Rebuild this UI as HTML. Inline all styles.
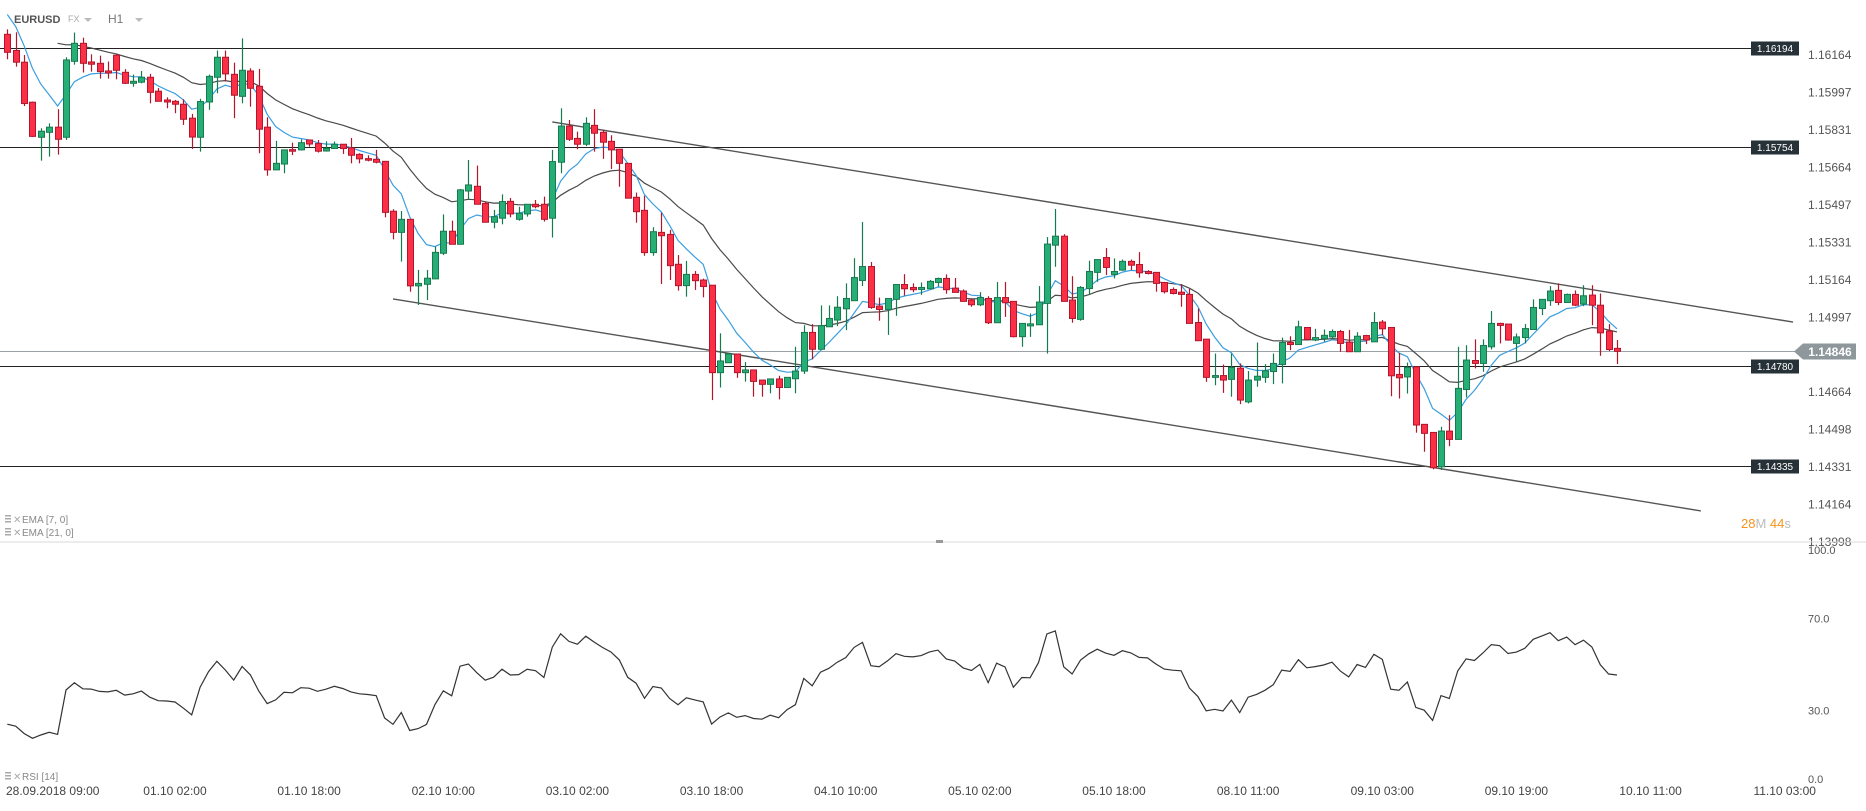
<!DOCTYPE html>
<html><head><meta charset="utf-8"><style>
html,body{margin:0;padding:0;background:#fff;}
body{width:1866px;height:811px;overflow:hidden;font-family:"Liberation Sans",sans-serif;}
svg{display:block;}
</style></head><body>
<svg id="chart" width="1866" height="811" viewBox="0 0 1866 811" xmlns="http://www.w3.org/2000/svg" font-family="Liberation Sans, sans-serif">
  <g>
    <text x="14" y="23" font-size="11" font-weight="bold" fill="#555">EURUSD</text>
    <text x="68" y="22" font-size="9" fill="#aaa">FX</text>
    <path d="M84 18 L92 18 L88 22 Z" fill="#bbb"/>
    <text x="108" y="23" font-size="12" fill="#777">H1</text>
    <path d="M135 18 L143 18 L139 22 Z" fill="#bbb"/>
  </g>
  <g id="levels"></g>
  <g id="channel"></g>
  <g id="emas"></g>
  <g id="candles"></g>
  <g id="priceAxis"></g>
  <g font-size="10" fill="#888">
    <g>
      <rect x="5" y="515" width="6" height="1.5" fill="#aaa"/><rect x="5" y="518" width="6" height="1.5" fill="#aaa"/><rect x="5" y="521" width="6" height="1.5" fill="#aaa"/>
      <text x="13" y="523" fill="#aaa">✕</text><text x="22" y="523">EMA  [7, 0]</text>
    </g>
    <g>
      <rect x="5" y="528" width="6" height="1.5" fill="#aaa"/><rect x="5" y="531" width="6" height="1.5" fill="#aaa"/><rect x="5" y="534" width="6" height="1.5" fill="#aaa"/>
      <text x="13" y="536" fill="#aaa">✕</text><text x="22" y="536">EMA  [21, 0]</text>
    </g>
  </g>
  <g font-size="13">
    <text x="1741" y="528"><tspan fill="#f7931e">28</tspan><tspan fill="#bbb">M </tspan><tspan fill="#f7931e">44</tspan><tspan fill="#bbb">s</tspan></text>
  </g>
  <line x1="0" y1="542" x2="1866" y2="542" stroke="#d8d8d8" stroke-width="1"/>
  <rect x="936" y="540" width="7" height="3" fill="#999"/>
  <g id="rsiPanel"></g>
  <g font-size="10" fill="#888">
    <rect x="5" y="772" width="6" height="1.5" fill="#aaa"/><rect x="5" y="775" width="6" height="1.5" fill="#aaa"/><rect x="5" y="778" width="6" height="1.5" fill="#aaa"/>
    <text x="13" y="780" fill="#aaa">✕</text><text x="22" y="780">RSI  [14]</text>
  </g>
  <g id="timeAxis"></g>
</svg>
<script>
const opens=[1.16256,1.16184,1.16132,1.15954,1.15798,1.15820,1.15843,1.15798,1.16136,1.16216,
1.16133,1.16127,1.16093,1.16163,1.16087,1.16038,1.16043,1.16065,1.16003,1.15964,
1.15958,1.15945,1.15883,1.15798,1.15955,1.16065,1.16154,1.16078,1.15980,1.16093,
1.16025,1.15843,1.15653,1.15679,1.15743,1.15742,1.15786,1.15770,1.15737,1.15748,
1.15767,1.15751,1.15722,1.15703,1.15700,1.15691,1.15469,1.15375,1.15433,1.15137,
1.15144,1.15168,1.15282,1.15380,1.15322,1.15559,1.15580,1.15504,1.15420,1.15438,
1.15513,1.15433,1.15457,1.15500,1.15500,1.15438,1.15687,1.15848,1.15793,1.15767,
1.15851,1.15820,1.15780,1.15745,1.15682,1.15531,1.15473,1.15285,1.15375,1.15366,
1.15233,1.15138,1.15188,1.15163,1.15140,1.14751,1.14795,1.14834,1.14751,1.14763,
1.14718,1.14699,1.14723,1.14685,1.14724,1.14758,1.14930,1.14855,1.14955,1.14985,
1.15035,1.15071,1.15161,1.15223,1.15047,1.15032,1.15077,1.15143,1.15130,1.15121,
1.15124,1.15152,1.15170,1.15127,1.15114,1.15074,1.15053,1.15081,1.14973,1.15085,
1.15068,1.14911,1.14959,1.14964,1.15059,1.15318,1.15358,1.15074,1.14988,1.15125,
1.15197,1.15263,1.15188,1.15207,1.15246,1.15232,1.15201,1.15197,1.15152,1.15121,
1.15109,1.15099,1.14974,1.14900,1.14730,1.14738,1.14721,1.14771,1.14621,1.14718,
1.14730,1.14756,1.14787,1.14885,1.14876,1.14952,1.14896,1.14902,1.14910,1.14934,
1.14887,1.14844,1.14916,1.14888,1.14976,1.14952,1.14743,1.14732,1.14777,1.14521,
1.14485,1.14332,1.14491,1.14454,1.14676,1.14805,1.14792,1.14866,1.14970,1.14967,
1.14881,1.14907,1.14943,1.15036,1.15071,1.15117,1.15063,1.15099,1.15056,1.15096,
1.15051,1.14936,1.14859];
const highs=[1.16278,1.16265,1.16164,1.15957,1.15838,1.15860,1.15923,1.16154,1.16264,1.16241,
1.16167,1.16161,1.16135,1.16166,1.16101,1.16077,1.16093,1.16080,1.16017,1.15976,
1.15964,1.15967,1.15902,1.15969,1.16077,1.16184,1.16184,1.16130,1.16238,1.16105,
1.16102,1.15887,1.15782,1.15742,1.15774,1.15789,1.15786,1.15786,1.15780,1.15779,
1.15768,1.15795,1.15727,1.15718,1.15742,1.15691,1.15478,1.15470,1.15433,1.15208,
1.15208,1.15312,1.15455,1.15427,1.15568,1.15697,1.15672,1.15513,1.15475,1.15544,
1.15528,1.15489,1.15500,1.15519,1.15534,1.15742,1.15927,1.15875,1.15823,1.15887,
1.15923,1.15831,1.15807,1.15745,1.15682,1.15552,1.15538,1.15398,1.15463,1.15386,
1.15274,1.15248,1.15203,1.15169,1.15140,1.14926,1.14840,1.14834,1.14798,1.14763,
1.14718,1.14723,1.14737,1.14730,1.14866,1.14962,1.14967,1.15050,1.15050,1.15091,
1.15148,1.15260,1.15421,1.15243,1.15085,1.15081,1.15143,1.15189,1.15148,1.15152,
1.15163,1.15174,1.15188,1.15172,1.15121,1.15081,1.15109,1.15091,1.15154,1.15154,
1.15068,1.14970,1.15014,1.15136,1.15354,1.15479,1.15367,1.15180,1.15136,1.15249,
1.15254,1.15305,1.15259,1.15254,1.15254,1.15287,1.15207,1.15197,1.15155,1.15130,
1.15145,1.15124,1.15036,1.14900,1.14836,1.14787,1.14836,1.14792,1.14758,1.14885,
1.14789,1.14836,1.14907,1.14913,1.14982,1.14952,1.14946,1.14943,1.14943,1.14941,
1.14941,1.14931,1.14919,1.15020,1.14985,1.14952,1.14839,1.14796,1.14777,1.14521,
1.14485,1.14510,1.14562,1.14866,1.14873,1.14899,1.14899,1.15025,1.14973,1.14967,
1.14925,1.14967,1.15077,1.15077,1.15136,1.15148,1.15103,1.15117,1.15140,1.15140,
1.15103,1.14967,1.14896];
const lows=[1.16145,1.16112,1.15937,1.15799,1.15694,1.15712,1.15721,1.15786,1.16121,1.16086,
1.16090,1.16059,1.16059,1.16056,1.16035,1.16023,1.16038,1.15949,1.15958,1.15927,
1.15905,1.15853,1.15746,1.15734,1.15920,1.15994,1.16046,1.15883,1.15949,1.15934,
1.15727,1.15627,1.15653,1.15638,1.15719,1.15739,1.15756,1.15730,1.15734,1.15748,
1.15724,1.15682,1.15682,1.15691,1.15682,1.15442,1.15344,1.15245,1.15111,1.15052,
1.15074,1.15168,1.15274,1.15322,1.15322,1.15519,1.15500,1.15420,1.15393,1.15411,
1.15442,1.15427,1.15445,1.15482,1.15423,1.15352,1.15638,1.15782,1.15745,1.15759,
1.15734,1.15702,1.15657,1.15578,1.15527,1.15418,1.15271,1.15271,1.15145,1.15163,
1.15116,1.15089,1.15119,1.15086,1.14629,1.14685,1.14795,1.14728,1.14711,1.14644,
1.14644,1.14659,1.14632,1.14685,1.14659,1.14745,1.14810,1.14855,1.14955,1.14958,
1.14940,1.15071,1.15136,1.15035,1.14982,1.14919,1.15004,1.15094,1.15109,1.15097,
1.15124,1.15134,1.15102,1.15108,1.15068,1.15044,1.15047,1.14967,1.14973,1.14999,
1.14908,1.14866,1.14910,1.14964,1.14836,1.15222,1.15068,1.14973,1.14982,1.15100,
1.15155,1.15185,1.15170,1.15204,1.15207,1.15173,1.15188,1.15111,1.15103,1.15099,
1.15044,1.14970,1.14893,1.14710,1.14695,1.14661,1.14644,1.14611,1.14614,1.14688,
1.14706,1.14700,1.14703,1.14851,1.14876,1.14896,1.14891,1.14888,1.14899,1.14844,
1.14844,1.14844,1.14878,1.14888,1.14918,1.14646,1.14636,1.14658,1.14484,1.14399,
1.14321,1.14318,1.14424,1.14454,1.14641,1.14770,1.14755,1.14854,1.14881,1.14893,
1.14799,1.14881,1.14943,1.15007,1.15048,1.15051,1.15063,1.15047,1.15047,1.14962,
1.14826,1.14847,1.14789];
const closes=[1.16176,1.16132,1.15948,1.15802,1.15825,1.15843,1.15789,1.16142,1.16216,1.16127,
1.16123,1.16090,1.16084,1.16096,1.16038,1.16047,1.16065,1.15998,1.15958,1.15955,
1.15945,1.15878,1.15799,1.15957,1.16069,1.16154,1.16080,1.15985,1.16096,1.16016,
1.15834,1.15653,1.15682,1.15742,1.15736,1.15774,1.15768,1.15736,1.15749,1.15767,
1.15748,1.15718,1.15702,1.15696,1.15687,1.15464,1.15375,1.15433,1.15137,1.15148,
1.15171,1.15286,1.15380,1.15322,1.15564,1.15586,1.15500,1.15420,1.15445,1.15512,
1.15457,1.15460,1.15500,1.15489,1.15433,1.15690,1.15848,1.15789,1.15767,1.15860,
1.15816,1.15776,1.15742,1.15682,1.15527,1.15467,1.15285,1.15378,1.15360,1.15227,
1.15138,1.15188,1.15160,1.15134,1.14751,1.14803,1.14834,1.14751,1.14763,1.14712,
1.14699,1.14723,1.14685,1.14730,1.14758,1.14930,1.14855,1.14960,1.14992,1.15042,
1.15081,1.15174,1.15223,1.15041,1.15032,1.15081,1.15143,1.15124,1.15120,1.15130,
1.15157,1.15170,1.15120,1.15108,1.15068,1.15053,1.15085,1.14973,1.15085,1.15062,
1.14911,1.14970,1.14968,1.15065,1.15323,1.15358,1.15068,1.14992,1.15130,1.15201,
1.15254,1.15219,1.15201,1.15246,1.15229,1.15195,1.15192,1.15148,1.15111,1.15103,
1.15099,1.14970,1.14893,1.14730,1.14738,1.14718,1.14774,1.14629,1.14718,1.14735,
1.14759,1.14792,1.14885,1.14876,1.14955,1.14899,1.14907,1.14917,1.14934,1.14881,
1.14844,1.14913,1.14896,1.14974,1.14946,1.14737,1.14728,1.14774,1.14518,1.14481,
1.14328,1.14491,1.14454,1.14681,1.14807,1.14792,1.14872,1.14970,1.14961,1.14896,
1.14910,1.14947,1.15041,1.15077,1.15114,1.15063,1.15099,1.15051,1.15093,1.15051,
1.14928,1.14854,1.14846];
const priceTicks=[1.16164,1.15997,1.15831,1.15664,1.15497,1.15331,1.15164,1.14997,1.14664,1.14498,1.14331,1.14164,1.13998];
const levelPrices=[1.16194,1.15754,1.14780,1.14335];
const currentPrice=1.14846;
const upperChannel=[[65,1.15866],[213,1.14976]];
const lowerChannel=[[46,1.15079],[202,1.14136]];
const ema7Seed=1.1640, ema21Seed=1.1651;
const rsiSeedGain=0.00022, rsiSeedLoss=0.0007;
const rsiTicks=[100,70,30,0];
const timeTickIndex=[20,36,52,68,84,100,116,132,148,164,180,196,212];
const timeTickLabels=["01.10  02:00","01.10  18:00","02.10  10:00","03.10  02:00","03.10  18:00","04.10  10:00","05.10  02:00","05.10  18:00","08.10  11:00","09.10  03:00","09.10  19:00","10.10  11:00","11.10  03:00"];
const firstTimeLabel="28.09.2018  09:00";

const NS="http://www.w3.org/2000/svg";
function mk(tag,attrs,parent){const e=document.createElementNS(NS,tag);for(const k in attrs)e.setAttribute(k,attrs[k]);parent.appendChild(e);return e;}
const X=i=>7.3+i*8.384;
const Y=p=>55+(1.16164-p)*22480;
const RY=v=>779-v*2.29;
const AXX=1808;

const lv=document.getElementById('levels');
levelPrices.forEach(p=>{
  const y=Math.round(Y(p))+0.5;
  const l=mk('line',{x1:0,y1:y,x2:1751,y2:y,stroke:'#222','stroke-width':1},lv);
  
  
  const r=mk('rect',{x:1751,y:y-7,width:48,height:14,fill:'#263238'},lv);
  
  
  const t=mk('text',{x:1775,y:y+3.5,'font-size':10,fill:'#fff','text-anchor':'middle'},lv);
  t.textContent=p.toFixed(5);
  
  
});
{
  const y=Math.round(Y(currentPrice))+0.5;
  const l=mk('line',{x1:0,y1:y,x2:1795,y2:y,stroke:'#9aa3a8','stroke-width':1},lv);
  
  
  const pg=mk('path',{d:`M1794 ${y} L1803 ${y-8} L1856 ${y-8} L1856 ${y+8} L1803 ${y+8} Z`,fill:'#8d979c'},lv);
  
  
  const t=mk('text',{x:1830,y:y+4.5,'font-size':12,'font-weight':'bold',fill:'#fff','text-anchor':'middle'},lv);
  t.textContent=currentPrice.toFixed(5);
  
  
}
const ch=document.getElementById('channel');
[[upperChannel,'upper-channel-line'],[lowerChannel,'lower-channel-line']].forEach(([pts,nm])=>{
  const l=mk('line',{x1:X(pts[0][0]),y1:Y(pts[0][1]),x2:X(pts[1][0]),y2:Y(pts[1][1]),stroke:'#555','stroke-width':1.4},ch);
  
  
});
function ema(seed,n){const k=2/(n+1);const out=[];let e=seed;for(let i=0;i<closes.length;i++){e=closes[i]*k+e*(1-k);out.push(e);}return out;}
const e7=ema(ema7Seed,7), e21=ema(ema21Seed,21);
const eg=document.getElementById('emas');
{
  let d='';for(let i=6;i<e21.length;i++)d+=(i===6?'M':'L')+X(i).toFixed(1)+' '+Y(e21[i]).toFixed(1);
  const p=mk('path',{d:d,fill:'none',stroke:'#4a4a4a','stroke-width':1.2},eg);
  
  
  let d2='';for(let i=0;i<e7.length;i++)d2+=(i===0?'M':'L')+X(i).toFixed(1)+' '+Y(e7[i]).toFixed(1);
  const p2=mk('path',{d:d2,fill:'none',stroke:'#3a9ee0','stroke-width':1.2},eg);
  
  
}
const cg=document.getElementById('candles');
for(let i=0;i<closes.length;i++){
  const up=closes[i]>=opens[i];
  const fill=up?'#27ae76':'#fb3046', st=up?'#177a4e':'#b3152c';
  const x=Math.round(X(i))+0.5;
  const g=mk('g',{},cg);
  
  
  mk('line',{x1:x,y1:Y(highs[i]),x2:x,y2:Y(lows[i]),stroke:st,'stroke-width':1.2},g);
  const top=Y(Math.max(opens[i],closes[i])), bot=Y(Math.min(opens[i],closes[i]));
  mk('rect',{x:x-3,y:top,width:6,height:Math.max(1,bot-top),fill:fill,stroke:st,'stroke-width':1},g);
}
const pa=document.getElementById('priceAxis');
priceTicks.forEach(p=>{
  const t=mk('text',{x:AXX,y:Y(p)+4,'font-size':12,fill:'#555'},pa);
  t.textContent=p.toFixed(5);
  
  
});
const rsi=[];{let ag=rsiSeedGain,al=rsiSeedLoss;rsi.push(100-100/(1+ag/al));
for(let i=1;i<closes.length;i++){const c=closes[i]-closes[i-1];ag=(ag*13+Math.max(c,0))/14;al=(al*13+Math.max(-c,0))/14;rsi.push(100-100/(1+ag/al));}}
const rp=document.getElementById('rsiPanel');
{
  let d='';for(let i=0;i<rsi.length;i++)d+=(i===0?'M':'L')+X(i).toFixed(1)+' '+RY(rsi[i]).toFixed(1);
  const p=mk('path',{d:d,fill:'none',stroke:'#333','stroke-width':1.2},rp);
  
  
  rsiTicks.forEach(v=>{
    const t=mk('text',{x:AXX,y:RY(v)+4,'font-size':11,fill:'#555'},rp);
    t.textContent=v.toFixed(1);
    
    
  });
}
const ta=document.getElementById('timeAxis');
{
  const t0=mk('text',{x:6,y:795,'font-size':12,fill:'#444'},ta);
  t0.textContent=firstTimeLabel;
  
  
  timeTickIndex.forEach((idx,k)=>{
    const t=mk('text',{x:X(idx),y:795,'font-size':12,fill:'#444','text-anchor':'middle'},ta);
    t.textContent=timeTickLabels[k];
    
    
  });
}
</script>
</body></html>
